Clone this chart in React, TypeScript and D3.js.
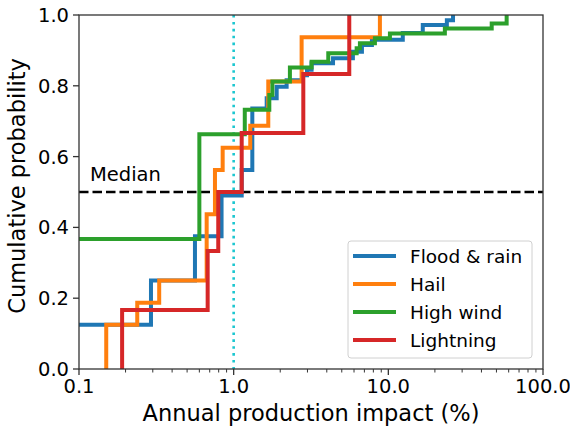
import React, { useEffect, useRef } from 'react';
import * as d3 from 'd3';

// step points: x where the CDF jumps, p = level after the jump
const floodX = [0.05, 0.292, 0.562, 0.835, 1.127, 1.32, 1.635, 1.897, 2.2, 2.8, 2.98, 3.19, 4.39, 5.9, 6.75, 7.83, 12.4, 16.7, 23.9, 26.2];
const floodP = [0.125, 0.25, 0.375, 0.49, 0.562, 0.736, 0.765, 0.797, 0.816, 0.83, 0.845, 0.864, 0.878, 0.896, 0.915, 0.93, 0.949, 0.972, 0.985, 1.0];

const hailX = [0.15, 0.15, 0.238, 0.33, 0.669, 0.757, 0.849, 1.28, 1.674, 2.75, 8.82];
const hailP = [0, 0.125, 0.1875, 0.25, 0.4375, 0.5625, 0.625, 0.6875, 0.8125, 0.9375, 1.0];

const windX = [0.05, 0.6, 1.18, 1.7, 1.78, 2.31, 3.19, 4.09, 6.24, 6.55, 8.19, 10.24, 23.2, 46.6, 58.2];
const windP = [0.367, 0.663, 0.732, 0.774, 0.812, 0.852, 0.868, 0.892, 0.906, 0.92, 0.934, 0.948, 0.962, 0.976, 1.0];

const lightX = [0.19, 0.19, 0.679, 0.795, 1.127, 2.82, 5.59];
const lightP = [0, 0.1667, 0.3333, 0.5, 0.6667, 0.8333, 1.0];

const seriesNames = ['Flood & rain', 'Hail', 'High wind', 'Lightning'];
const seriesColors = ['#1f77b4', '#ff7f0e', '#2ca02c', '#d62728'];
const xTicks = [0.1, 1, 10, 100];
const yTicks = [0, 0.2, 0.4, 0.6, 0.8, 1.0];

const W = 570;
const H = 430;
const M = { left: 79, right: 27, top: 15, bottom: 61 };
const FONT = '"DejaVu Sans", sans-serif';

const App: React.FC = () => {
  const svgRef = useRef<SVGSVGElement>(null);

  useEffect(() => {
    if (!svgRef.current) return;
    const svg = d3.select(svgRef.current);
    svg.selectAll('*').remove();

    const x = d3.scaleLog().domain([0.1, 100]).range([M.left, W - M.right]);
    const y = d3.scaleLinear().domain([0, 1]).range([H - M.bottom, M.top]);

    svg.append('defs').append('clipPath').attr('id', 'plotclip')
      .append('rect')
      .attr('x', M.left).attr('y', M.top)
      .attr('width', W - M.left - M.right).attr('height', H - M.top - M.bottom);

    const plot = svg.append('g').attr('clip-path', 'url(#plotclip)');

    // median line
    plot.append('line')
      .attr('x1', M.left).attr('x2', W - M.right)
      .attr('y1', y(0.5)).attr('y2', y(0.5))
      .attr('stroke', '#000').attr('stroke-width', 2.6)
      .attr('stroke-dasharray', '9.5,4');

    // x = 1 reference
    plot.append('line')
      .attr('x1', x(1)).attr('x2', x(1))
      .attr('y1', M.top).attr('y2', H - M.bottom)
      .attr('stroke', '#1cc7d0').attr('stroke-width', 2.6)
      .attr('stroke-dasharray', '2.6,4.3');

    const series = [
      [floodX, floodP],
      [hailX, hailP],
      [windX, windP],
      [lightX, lightP],
    ];

    const line = d3.line<[number, number]>()
      .x(d => x(d[0]))
      .y(d => y(d[1]))
      .curve(d3.curveStepAfter);

    series.forEach(([xs, ps], i) => {
      const pts = xs.map((v, j) => [v, ps[j]] as [number, number]);
      plot.append('path')
        .attr('d', line(pts))
        .attr('fill', 'none')
        .attr('stroke', seriesColors[i])
        .attr('stroke-width', 4);
    });

    plot.append('text')
      .attr('x', 90).attr('y', 181)
      .attr('font-family', FONT).attr('font-size', 19.5)
      .attr('fill', '#000')
      .text('Median');

    // frame
    svg.append('rect')
      .attr('x', M.left).attr('y', M.top)
      .attr('width', W - M.left - M.right).attr('height', H - M.top - M.bottom)
      .attr('fill', 'none').attr('stroke', '#333').attr('stroke-width', 1.3);

    // x axis
    const xAxis = svg.append('g').attr('transform', `translate(0,${H - M.bottom})`);
    const minor: number[] = [];
    [0.1, 1, 10].forEach(d => { for (let k = 2; k <= 9; k++) minor.push(d * k); });
    xAxis.selectAll('.minor').data(minor).enter().append('line')
      .attr('x1', d => x(d)).attr('x2', d => x(d))
      .attr('y1', 0).attr('y2', 3.5)
      .attr('stroke', '#333').attr('stroke-width', 1);
    xAxis.selectAll('.major').data(xTicks).enter().append('line')
      .attr('x1', d => x(d)).attr('x2', d => x(d))
      .attr('y1', 0).attr('y2', 6)
      .attr('stroke', '#333').attr('stroke-width', 1.3);
    xAxis.selectAll('.lbl').data(xTicks).enter().append('text')
      .attr('x', d => x(d)).attr('y', 24)
      .attr('text-anchor', 'middle')
      .attr('font-family', FONT).attr('font-size', 19.5)
      .attr('fill', '#000')
      .text(d => d3.format('.1f')(d));

    svg.append('text')
      .attr('x', (M.left + W - M.right) / 2).attr('y', 421)
      .attr('text-anchor', 'middle')
      .attr('font-family', FONT).attr('font-size', 22.5)
      .attr('fill', '#000')
      .text('Annual production impact (%)');

    // y axis
    const yAxis = svg.append('g').attr('transform', `translate(${M.left},0)`);
    yAxis.selectAll('.major').data(yTicks).enter().append('line')
      .attr('x1', -6).attr('x2', 0)
      .attr('y1', d => y(d)).attr('y2', d => y(d))
      .attr('stroke', '#333').attr('stroke-width', 1.3);
    yAxis.selectAll('.lbl').data(yTicks).enter().append('text')
      .attr('x', -10).attr('y', d => y(d))
      .attr('dy', '0.36em')
      .attr('text-anchor', 'end')
      .attr('font-family', FONT).attr('font-size', 19.5)
      .attr('fill', '#000')
      .text(d => d3.format('.1f')(d));

    svg.append('text')
      .attr('transform', `translate(25,${(M.top + H - M.bottom) / 2 - 6}) rotate(-90)`)
      .attr('text-anchor', 'middle')
      .attr('font-family', FONT).attr('font-size', 22.5)
      .attr('fill', '#000')
      .text('Cumulative probability');

    // legend
    const lg = svg.append('g').attr('transform', 'translate(348,241)');
    lg.append('rect')
      .attr('width', 184).attr('height', 117)
      .attr('rx', 3)
      .attr('fill', 'rgba(255,255,255,0.85)')
      .attr('stroke', '#d0d0d0').attr('stroke-width', 1);
    seriesNames.forEach((name, i) => {
      const yy = 15 + i * 28;
      lg.append('line')
        .attr('x1', 5).attr('x2', 48)
        .attr('y1', yy).attr('y2', yy)
        .attr('stroke', seriesColors[i]).attr('stroke-width', 4);
      lg.append('text')
        .attr('x', 62).attr('y', yy)
        .attr('dy', '0.36em')
        .attr('font-family', FONT).attr('font-size', 18.5)
        .attr('fill', '#000')
        .text(name);
    });
  }, []);

  return (
    <svg
      ref={svgRef}
      width={W}
      height={H}
      style={{ position: 'absolute', left: 0, top: 0, background: '#fff' }}
    />
  );
};

export default App;
